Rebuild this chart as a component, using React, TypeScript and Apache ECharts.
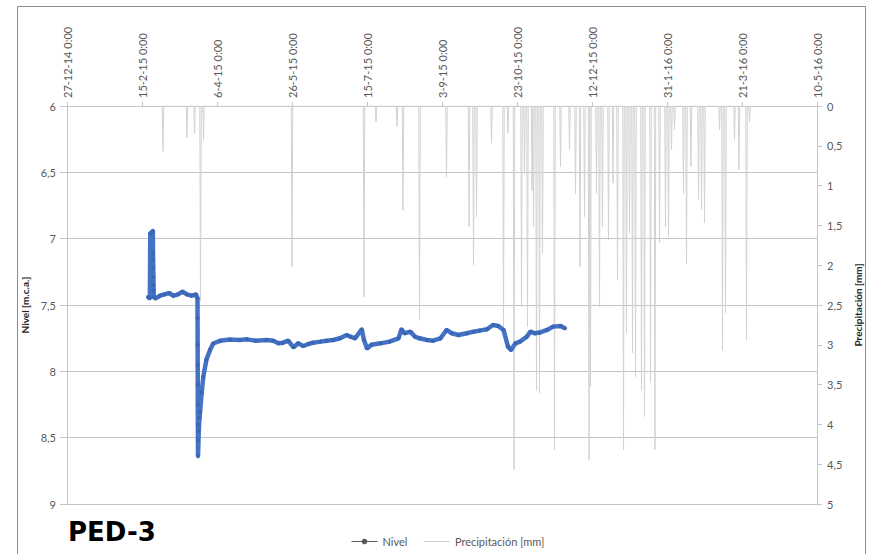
import React, { useEffect, useRef } from "react";
import * as echarts from "echarts";

// ---------- data ----------
const axisStart = "2014-12-27";
const axisDays = 500;
const tickStepDays = 50;

const nivelDates: string[] = [
  "2015-02-19 00:00", "2015-02-20 06:00", "2015-02-20 12:00", "2015-02-21 18:00", "2015-02-22 06:00",
  "2015-02-22 08:00", "2015-02-22 10:00", "2015-02-22 12:00", "2015-02-22 14:00", "2015-02-22 16:00",
  "2015-02-22 18:00", "2015-02-22 20:00",
  "2015-02-24", "2015-02-27", "2015-03-02", "2015-03-05", "2015-03-08", "2015-03-11", "2015-03-14",
  "2015-03-17", "2015-03-20", "2015-03-23",
  "2015-03-24 00:00", "2015-03-24 01:00", "2015-03-24 02:00", "2015-03-24 03:00", "2015-03-24 04:00",
  "2015-03-24 05:00", "2015-03-24 06:00", "2015-03-24 07:00", "2015-03-24 08:00",
  "2015-03-24 20:00", "2015-03-25 08:00", "2015-03-25 16:00", "2015-03-26 19:00", "2015-03-27 21:00",
  "2015-03-30", "2015-04-01 08:00",
  "2015-04-03 12:00", "2015-04-08", "2015-04-14 16:00", "2015-04-21", "2015-04-26", "2015-05-02",
  "2015-05-09", "2015-05-13 12:00", "2015-05-17", "2015-05-20", "2015-05-23 12:00", "2015-05-27",
  "2015-05-30", "2015-06-02 12:00", "2015-06-06", "2015-06-09", "2015-06-14", "2015-06-18",
  "2015-06-22 12:00", "2015-06-27", "2015-07-01 12:00", "2015-07-04", "2015-07-07", "2015-07-11 12:00",
  "2015-07-13", "2015-07-15", "2015-07-18", "2015-07-24", "2015-07-30", "2015-08-05", "2015-08-07",
  "2015-08-09", "2015-08-13", "2015-08-16", "2015-08-19", "2015-08-24", "2015-08-28", "2015-09-02",
  "2015-09-06", "2015-09-09 12:00", "2015-09-14", "2015-09-19 12:00", "2015-09-24", "2015-09-28",
  "2015-10-03", "2015-10-07", "2015-10-10 12:00", "2015-10-14", "2015-10-17", "2015-10-19",
  "2015-10-22", "2015-10-25", "2015-10-29 12:00", "2015-11-01", "2015-11-04", "2015-11-07",
  "2015-11-12", "2015-11-16", "2015-11-21", "2015-11-24",
];
const nivelValues: number[] = [
  7.44, 7.45, 6.96, 6.95, 6.94,
  7.11, 7.16, 7.22, 7.29, 7.35,
  7.39, 7.44,
  7.45, 7.43, 7.42, 7.41, 7.43, 7.42, 7.4,
  7.42, 7.43, 7.42,
  7.45, 7.6, 7.8, 7.95, 8.1,
  8.25, 8.4, 8.52, 8.64,
  8.45, 8.35, 8.31, 8.16, 8.04,
  7.91, 7.84,
  7.79, 7.77, 7.76, 7.764, 7.759, 7.769,
  7.764, 7.769, 7.789, 7.784, 7.769, 7.819,
  7.789, 7.809, 7.794, 7.784, 7.776, 7.769,
  7.764, 7.751, 7.726, 7.739, 7.751, 7.683,
  7.764, 7.827, 7.8, 7.789, 7.776, 7.751, 7.683,
  7.713, 7.701, 7.739, 7.751, 7.764, 7.769, 7.751,
  7.688, 7.713, 7.726, 7.713, 7.701, 7.693,
  7.683, 7.651, 7.658, 7.688, 7.814, 7.839,
  7.789, 7.776, 7.739, 7.701, 7.713, 7.708,
  7.688, 7.663, 7.658, 7.676,
];

const precipDates: string[] = [
  "2015-03-01", "2015-03-17", "2015-03-22", "2015-03-26", "2015-03-28", "2015-05-26", "2015-07-13",
  "2015-07-21", "2015-08-04", "2015-08-08", "2015-08-19", "2015-09-06", "2015-09-21", "2015-09-24",
  "2015-09-26", "2015-10-06", "2015-10-14", "2015-10-17", "2015-10-21", "2015-10-26", "2015-10-28",
  "2015-10-30", "2015-11-02", "2015-11-03", "2015-11-05", "2015-11-07", "2015-11-09", "2015-11-17",
  "2015-11-21", "2015-11-27", "2015-12-01", "2015-12-04", "2015-12-07", "2015-12-10", "2015-12-11",
  "2015-12-15", "2015-12-17", "2015-12-19", "2015-12-23", "2015-12-26", "2015-12-29", "2016-01-02",
  "2016-01-04", "2016-01-06", "2016-01-08", "2016-01-10", "2016-01-14", "2016-01-16", "2016-01-20",
  "2016-01-23", "2016-01-26", "2016-01-30", "2016-02-01", "2016-02-03", "2016-02-05", "2016-02-11",
  "2016-02-13", "2016-02-16", "2016-02-21", "2016-02-23", "2016-02-25", "2016-03-06", "2016-03-08",
  "2016-03-10", "2016-03-16", "2016-03-19", "2016-03-24", "2016-03-26",
];
const precipValues: number[] = [
  0.57, 0.4, 0.35, 2.45, 0.43, 2.02, 2.4,
  0.2, 0.26, 1.31, 2.69, 0.89, 1.52, 2.0,
  1.39, 0.47, 2.85, 0.34, 4.57, 2.52, 0.85,
  2.77, 1.06, 1.52, 3.57, 3.61, 1.85, 4.32,
  0.76, 0.55, 1.1, 2.02, 1.39, 4.45, 3.53,
  1.1, 2.52, 1.52, 1.68, 0.97, 2.19, 4.32,
  2.85, 1.6, 3.1, 3.4, 3.57, 3.9, 3.48,
  4.32, 1.72, 1.52, 1.64, 0.55, 0.3, 1.1,
  1.98, 0.76, 1.18, 1.3, 1.47, 0.3, 3.07,
  2.6, 0.42, 0.8, 2.94, 0.2,
];

// ---------- helpers ----------
const DAY = 86400000;
function toUTC(s: string): number {
  const [date, time] = s.split(" ");
  const [y, m, d] = date.split("-").map(Number);
  const h = time ? Number(time.split(":")[0]) : 0;
  return Date.UTC(y, m - 1, d, h);
}
const START = toUTC(axisStart);
const dayOf = (s: string) => (toUTC(s) - START) / DAY;
const fmtDate = (v: number) => {
  const dt = new Date(START + v * DAY);
  return `${dt.getUTCDate()}-${dt.getUTCMonth() + 1}-${String(dt.getUTCFullYear()).slice(2)} 0:00`;
};
const comma = (v: number) => String(v).replace(".", ",");

const FONT = "Lato, 'Open Sans', sans-serif";
const LABEL = "#595959";
const GRIDC = "#c4c4c4";

export default function App() {
  const ref = useRef<HTMLDivElement>(null);
  useEffect(() => {
    document.body.style.margin = "0";
    if (!ref.current) return;
    const chart = echarts.init(ref.current, undefined, { renderer: "svg" });

    const nivelData = nivelDates.map((d, i) => [dayOf(d), nivelValues[i]]);
    const precipData: number[][] = [];
    precipDates.forEach((d, i) => {
      const x = dayOf(d);
      precipData.push([x - 0.5, 0], [x, precipValues[i]], [x + 0.5, 0]);
    });

    chart.setOption({
      animation: false,
      backgroundColor: "#ffffff",
      textStyle: { fontFamily: FONT },
      grid: { left: 67, right: 54, top: 106, bottom: 50, outerBoundsMode: "none" },
      legend: {
        left: 346,
        top: 531,
        itemWidth: 26,
        itemHeight: 7,
        itemGap: 16,
        textStyle: { color: LABEL, fontSize: 11, fontFamily: FONT },
        data: [
          {
            name: "Nivel",
            lineStyle: { color: "#595959", width: 1 },
            itemStyle: { color: "#595959", borderWidth: 0 },
          },
          {
            name: "Precipitación [mm]",
            lineStyle: { color: "#d0d0d0", width: 1 },
            itemStyle: { color: "#d0d0d0", opacity: 0 },
          },
        ],
      },
      xAxis: {
        type: "value",
        position: "top",
        min: 0,
        max: axisDays,
        interval: tickStepDays,
        splitLine: { show: false },
        axisLine: { show: true, lineStyle: { color: GRIDC } },
        axisTick: { show: true, length: 4, lineStyle: { color: GRIDC } },
        axisLabel: {
          rotate: 90,
          margin: 8,
          color: LABEL,
          fontSize: 11,
          fontFamily: FONT,
          formatter: (v: number) => fmtDate(v),
        },
      },
      yAxis: [
        {
          type: "value",
          inverse: true,
          min: 6,
          max: 9,
          interval: 0.5,
          name: "Nivel [m.c.a.]",
          nameLocation: "middle",
          nameGap: 33,
          nameTextStyle: { fontWeight: "bold", fontSize: 10, color: "#262626", fontFamily: FONT },
          axisLine: { show: true, lineStyle: { color: GRIDC } },
          axisTick: { show: true, length: 7, lineStyle: { color: GRIDC } },
          axisLabel: { color: LABEL, fontSize: 11, margin: 11, fontFamily: FONT, formatter: comma },
          splitLine: { show: true, lineStyle: { color: GRIDC, width: 1 } },
        },
        {
          type: "value",
          inverse: true,
          min: 0,
          max: 5,
          interval: 0.5,
          position: "right",
          name: "Precipitación [mm]",
          nameLocation: "middle",
          nameGap: 30,
          nameRotate: 90,
          nameTextStyle: { fontWeight: "bold", fontSize: 10, color: "#262626", fontFamily: FONT },
          axisLine: { show: true, lineStyle: { color: GRIDC } },
          axisTick: { show: true, length: 5, lineStyle: { color: GRIDC } },
          axisLabel: { color: LABEL, fontSize: 11, margin: 10, fontFamily: FONT, formatter: comma },
          splitLine: { show: false },
        },
      ],
      series: [
        {
          name: "Nivel",
          type: "line",
          yAxisIndex: 0,
          data: nivelData,
          z: 3,
          color: "#4472c4",
          lineStyle: { color: "#4472c4", width: 4.5 },
          symbol: "circle",
          symbolSize: 4,
          showSymbol: true,
          itemStyle: { color: "#3a66b5", borderWidth: 0 },
        },
        {
          name: "Precipitación [mm]",
          type: "line",
          yAxisIndex: 1,
          data: precipData,
          z: 2,
          color: "#d0d0d0",
          lineStyle: { color: "#d2d2d2", width: 1 },
          showSymbol: false,
          symbol: "none",
        },
      ],
      graphic: [
        {
          type: "rect",
          left: 15,
          top: 4,
          shape: { width: 848, height: 548 },
          style: { fill: "none", stroke: "#8c8c8c", lineWidth: 1 },
          silent: true,
          z: -1,
        },
        {
          type: "text",
          left: 68,
          top: 519,
          style: {
            text: "PED-3",
            fill: "#000000",
            font: "bold 26px 'DejaVu Sans', sans-serif",
          },
        },
      ],
    });
    return () => chart.dispose();
  }, []);
  return <div ref={ref} style={{ width: 871, height: 554 }} />;
}
